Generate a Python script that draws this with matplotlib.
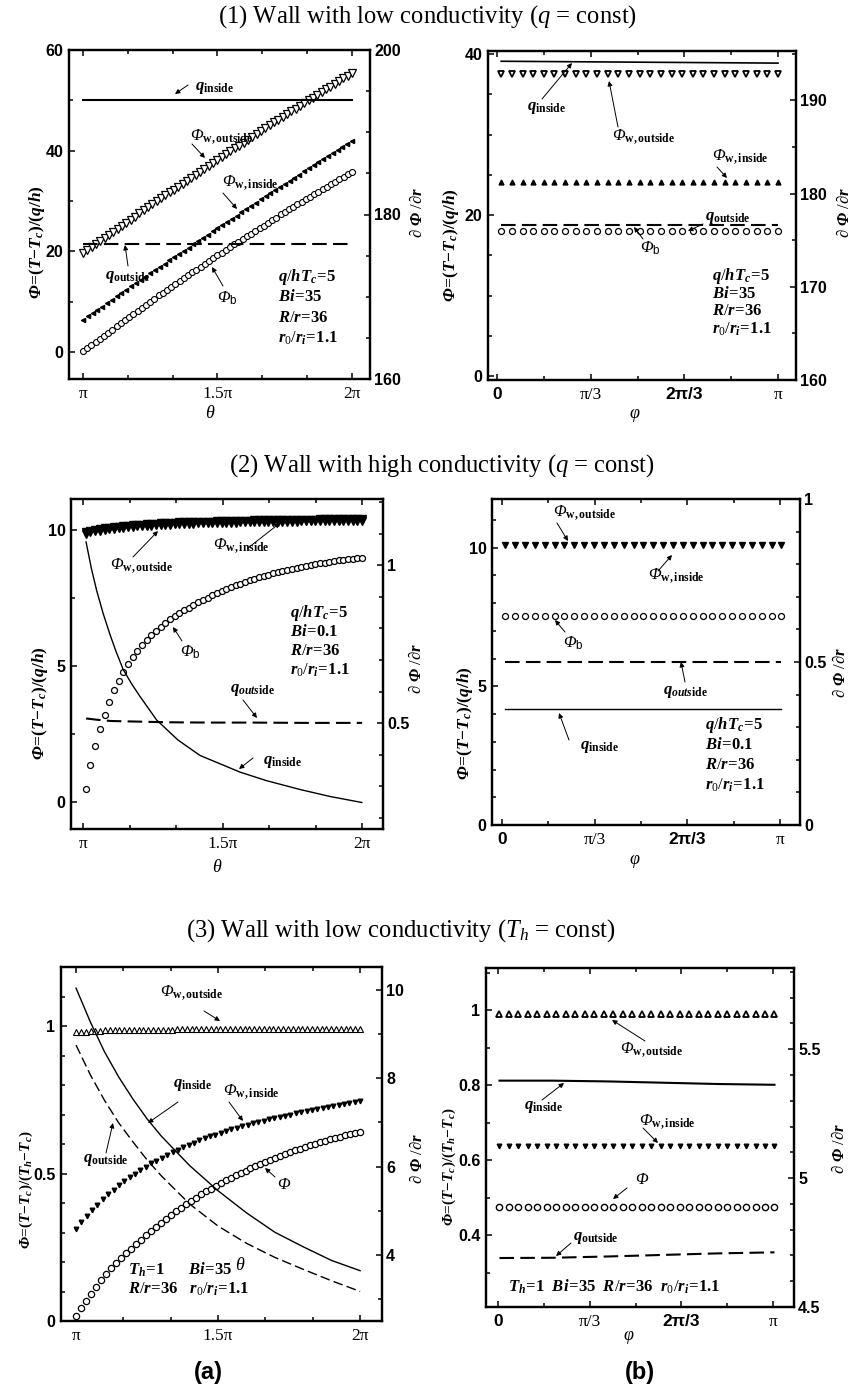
import numpy as np
import matplotlib
matplotlib.use("Agg")
import matplotlib.pyplot as plt
from matplotlib.patches import FancyArrowPatch

plt.rcParams['font.family'] = 'Liberation Serif'
plt.rcParams['mathtext.fontset'] = 'custom'
plt.rcParams['mathtext.rm'] = 'Liberation Serif'
plt.rcParams['mathtext.it'] = 'Liberation Serif:italic:bold'
plt.rcParams['mathtext.bf'] = 'Liberation Serif:bold'
plt.rcParams['mathtext.sf'] = 'Liberation Sans'
plt.rcParams['mathtext.cal'] = 'Liberation Serif:italic'
plt.rcParams['mathtext.tt'] = 'Liberation Serif:italic:bold'

SANS = 'Liberation Sans'
SERIF = 'Liberation Serif'

# ---------------- data (angles in units of pi) ----------------
# (1a) low conductivity, q = const, vs theta
phi_wout_1a = [19.7, 20.3, 20.9, 21.5, 22.1, 22.7, 23.3, 23.9, 24.5, 25.1, 25.7, 26.3, 26.9, 27.5, 28.1, 28.7,
               29.3, 29.9, 30.5, 31.1, 31.7, 32.2, 32.8, 33.4, 34.0, 34.6, 35.2, 35.8, 36.4, 37.0, 37.6, 38.2,
               38.8, 39.3, 39.9, 40.5, 41.0, 41.6, 42.2, 42.7, 43.3, 43.9, 44.4, 45.0, 45.6, 46.1, 46.7,
               47.2, 47.8, 48.3, 48.9, 49.4, 50.0, 50.5, 51.1, 51.6, 52.2, 52.7, 53.3, 53.8, 54.4, 54.9, 55.5]
phi_win_1a = [6.4, 7.1, 7.7, 8.4, 9.0, 9.7, 10.3, 11.0, 11.7, 12.3, 13.0, 13.6, 14.3, 14.9, 15.6,
              16.2, 16.9, 17.5, 18.2, 18.8, 19.5, 20.1, 20.7, 21.4, 22.0, 22.7, 23.3, 24.0, 24.6,
              25.2, 25.9, 26.5, 27.1, 27.7, 28.4, 29.0, 29.6, 30.3, 30.9, 31.5, 32.1, 32.8, 33.4,
              34.0, 34.6, 35.2, 35.9, 36.5, 37.1, 37.7, 38.3, 38.9, 39.5, 40.1, 40.8, 41.4, 42.0]
phi_b_1a = [0.1, 0.7, 1.3, 2.0, 2.6, 3.2, 3.8, 4.4, 5.1, 5.7, 6.3, 6.9, 7.5, 8.1, 8.8, 9.4, 10.0,
            10.6, 11.2, 11.7, 12.3, 12.9, 13.4, 14.0, 14.6, 15.2, 15.8, 16.3, 16.9, 17.5, 18.1, 18.6, 19.2,
            19.7, 20.3, 20.8, 21.4, 21.9, 22.4, 23.0, 23.5, 24.0, 24.6, 25.1, 25.7, 26.2, 26.7, 27.3, 27.8,
            28.3, 28.8, 29.3, 29.8, 30.3, 30.8, 31.3, 31.8, 32.3, 32.8, 33.3, 33.8, 34.3, 34.8, 35.3, 35.8]
theta_q_1a = [1.0, 2.0]
q_in_1a = [193.9, 193.9]
q_out_1a = [176.4, 176.4]

# (1b) low conductivity, q = const, vs phi
phi_wout_1b = [37.6, 37.6, 37.6, 37.6, 37.6, 37.6, 37.6, 37.6, 37.6, 37.6, 37.6, 37.6, 37.6, 37.6,
               37.6, 37.6, 37.6, 37.6, 37.6, 37.6, 37.6, 37.6, 37.6, 37.6, 37.6, 37.6, 37.6]
phi_win_1b = [24.1, 24.1, 24.1, 24.1, 24.1, 24.1, 24.1, 24.1, 24.1, 24.1, 24.1, 24.1, 24.1, 24.1,
              24.1, 24.1, 24.1, 24.1, 24.1, 24.1, 24.1, 24.1, 24.1, 24.1, 24.1, 24.1, 24.1]
phi_b_1b = [18.0, 18.0, 18.0, 18.0, 18.0, 18.0, 18.0, 18.0, 18.0, 18.0, 18.0, 18.0, 18.0, 18.0,
            18.0, 18.0, 18.0, 18.0, 18.0, 18.0, 18.0, 18.0, 18.0, 18.0, 18.0, 18.0, 18.0]
phi_q_1b = [0.015, 1.0]
q_in_1b = [194.2, 194.0]
q_out_1b = [176.6, 176.6]

# (2a) high conductivity, q = const, vs theta
phi_wout_2a = [9.92, 9.97, 10.01, 10.04, 10.07, 10.09, 10.11, 10.13, 10.15, 10.17, 10.18, 10.20, 10.21,
               10.22, 10.23, 10.24, 10.25, 10.26, 10.27, 10.28, 10.29,
               10.29, 10.30, 10.30, 10.31, 10.31, 10.32, 10.32, 10.33, 10.33, 10.34,
               10.34, 10.34, 10.35, 10.35, 10.35, 10.36, 10.36, 10.36, 10.37, 10.37,
               10.37, 10.38, 10.38, 10.38, 10.38, 10.39, 10.39, 10.39, 10.39, 10.40,
               10.40, 10.40, 10.40, 10.40, 10.41, 10.41, 10.41, 10.41, 10.41]
phi_win_2a = [9.86, 9.92, 9.96, 9.99, 10.02, 10.04, 10.06, 10.08, 10.10, 10.11, 10.13, 10.14, 10.15,
              10.16, 10.17, 10.18, 10.19, 10.20, 10.21, 10.22, 10.23,
              10.23, 10.24, 10.24, 10.25, 10.25, 10.26, 10.26, 10.27, 10.27, 10.28,
              10.28, 10.28, 10.29, 10.29, 10.29, 10.30, 10.30, 10.30, 10.31, 10.31,
              10.31, 10.32, 10.32, 10.32, 10.32, 10.33, 10.33, 10.33, 10.33, 10.34,
              10.34, 10.34, 10.34, 10.34, 10.35, 10.35, 10.35, 10.35, 10.35]
phi_b_2a = [0.48, 1.35, 2.07, 2.70, 3.21, 3.67, 4.12, 4.46, 4.79, 5.07, 5.34,
            5.57, 5.78, 5.97, 6.14, 6.30, 6.45, 6.59, 6.72, 6.84, 6.95,
            7.05, 7.15, 7.25, 7.34, 7.43, 7.52, 7.60, 7.68, 7.76, 7.83,
            7.90, 7.97, 8.03, 8.09, 8.15, 8.21, 8.26, 8.31, 8.36, 8.41,
            8.46, 8.50, 8.54, 8.58, 8.62, 8.66, 8.69, 8.72, 8.75, 8.78,
            8.81, 8.84, 8.86, 8.89, 8.91, 8.93, 8.95, 8.97, 8.99]
theta_qin_2a = [1.011, 1.030, 1.049, 1.072, 1.097, 1.118, 1.144, 1.174, 1.204, 1.264, 1.34, 1.419,
                1.563, 1.658, 1.778, 1.885, 1.999]
q_in_2a = [1.074, 0.99, 0.92, 0.848, 0.78, 0.728, 0.67, 0.625, 0.585, 0.51, 0.447, 0.398,
           0.345, 0.318, 0.29, 0.268, 0.249]
theta_qout_2a = [1.011, 1.05, 1.1, 1.2, 1.3, 1.45, 1.6, 1.8, 2.0]
q_out_2a = [0.515, 0.511, 0.507, 0.505, 0.503, 0.502, 0.502, 0.501, 0.501]

# (2b) high conductivity, q = const, vs phi
phi_w_2b = [10.1, 10.1, 10.1, 10.1, 10.1, 10.1, 10.1, 10.1, 10.1, 10.1, 10.1, 10.1, 10.1, 10.1, 10.1,
            10.1, 10.1, 10.1, 10.1, 10.1, 10.1, 10.1, 10.1, 10.1, 10.1, 10.1, 10.1, 10.1, 10.1]
phi_b_2b = [7.55, 7.55, 7.55, 7.55, 7.55, 7.55, 7.55, 7.55, 7.55, 7.55, 7.55, 7.55, 7.55, 7.55, 7.55,
            7.55, 7.55, 7.55, 7.55, 7.55, 7.55, 7.55, 7.55, 7.55, 7.55, 7.55, 7.55, 7.55, 7.55]
phi_q_2b = [0.012, 1.005]
q_in_2b = [0.357, 0.357]
q_out_2b = [0.501, 0.501]

# (3a) low conductivity, Th = const, vs theta
phi_wout_3a = [0.978, 0.980, 0.981, 0.982, 0.983, 0.984, 0.985, 0.985, 0.986, 0.986,
               0.987, 0.987, 0.987, 0.987, 0.987, 0.988, 0.988, 0.988, 0.988, 0.988,
               0.988, 0.989, 0.989, 0.989, 0.989, 0.989, 0.989, 0.989, 0.989, 0.989,
               0.989, 0.989, 0.989, 0.989, 0.989, 0.990, 0.990, 0.990, 0.990, 0.990,
               0.990, 0.990, 0.990, 0.990, 0.990, 0.990, 0.990, 0.990, 0.990, 0.990,
               0.991, 0.991, 0.991, 0.991, 0.991, 0.991, 0.991, 0.991, 0.991, 0.991]
phi_win_3a = [0.313, 0.335, 0.356, 0.376, 0.394, 0.412, 0.429, 0.445, 0.460, 0.474,
              0.487, 0.500, 0.512, 0.523, 0.534, 0.544, 0.554, 0.563, 0.572, 0.581,
              0.589, 0.597, 0.605, 0.612, 0.619, 0.626, 0.632, 0.638, 0.644, 0.650,
              0.655, 0.660, 0.665, 0.670, 0.675, 0.679, 0.684, 0.688, 0.692, 0.696,
              0.700, 0.704, 0.708, 0.712, 0.716, 0.719, 0.723, 0.726, 0.730, 0.733,
              0.737, 0.740, 0.744, 0.747]
phi_3a = [0.017, 0.044, 0.069, 0.093, 0.116, 0.138, 0.159, 0.179, 0.197, 0.214,
          0.230, 0.245, 0.260, 0.275, 0.292, 0.306, 0.320, 0.333, 0.347, 0.360,
          0.372, 0.384, 0.396, 0.407, 0.418, 0.429, 0.439, 0.449, 0.459, 0.468,
          0.477, 0.486, 0.494, 0.502, 0.510, 0.518, 0.525, 0.532, 0.539, 0.546,
          0.553, 0.559, 0.566, 0.572, 0.578, 0.584, 0.590, 0.595, 0.601, 0.606,
          0.611, 0.616, 0.621, 0.625, 0.630, 0.634, 0.638, 0.642]
theta_q_3a = [1.0, 1.05, 1.1, 1.15, 1.2, 1.25, 1.3, 1.4, 1.5, 1.6, 1.7, 1.8, 1.9, 2.0]
q_in_3a = [10.04, 9.28, 8.60, 8.03, 7.53, 7.08, 6.69, 6.02, 5.45, 4.95, 4.51, 4.18, 3.87, 3.64]
q_out_3a = [8.75, 8.08, 7.50, 6.99, 6.56, 6.15, 5.79, 5.15, 4.65, 4.26, 3.94, 3.67, 3.41, 3.17]

# (3b) low conductivity, Th = const, vs phi
phi_wout_3b = [0.99, 0.99, 0.99, 0.99, 0.99, 0.99, 0.99, 0.99, 0.99, 0.99, 0.99, 0.99, 0.99, 0.99, 0.99,
               0.99, 0.99, 0.99, 0.99, 0.99, 0.99, 0.99, 0.99, 0.99, 0.99, 0.99, 0.99, 0.99, 0.99, 0.99]
phi_win_3b = [0.637, 0.637, 0.637, 0.637, 0.637, 0.637, 0.637, 0.637, 0.637, 0.637, 0.637, 0.637, 0.637,
              0.637, 0.637, 0.637, 0.637, 0.637, 0.637, 0.637, 0.637, 0.637, 0.637, 0.637, 0.637, 0.637,
              0.637, 0.637, 0.637, 0.637]
phi_3b = [0.475, 0.475, 0.475, 0.475, 0.475, 0.475, 0.475, 0.475, 0.475, 0.475, 0.475, 0.475, 0.475,
          0.475, 0.475, 0.475, 0.475, 0.475, 0.475, 0.475, 0.475, 0.475, 0.475, 0.475, 0.475, 0.475,
          0.475, 0.475, 0.475, 0.475]
phi_q_3b = [0.005, 0.2, 0.4, 0.6, 0.8, 1.005]
q_in_3b = [5.378, 5.378, 5.375, 5.370, 5.365, 5.362]
q_out_3b = [4.690, 4.691, 4.696, 4.702, 4.708, 4.712]

# ---------------- figure ----------------
W, H = 854, 1388
fig = plt.figure(figsize=(W / 100, H / 100), dpi=100)


def box(l, t, r, b):
    return [l / W, 1 - b / H, (r - l) / W, (b - t) / H]


def txt(x, y, s, size=12, ha='left', **kw):
    fig.text(x / W, 1 - y / H, s, fontsize=size, ha=ha, va='center', **kw)


def arr(x0, y0, x1, y1):
    fig.add_artist(FancyArrowPatch((x0 / W, 1 - y0 / H), (x1 / W, 1 - y1 / H),
                                   transform=fig.transFigure, arrowstyle='-|>',
                                   mutation_scale=7, lw=0.7, color='k',
                                   shrinkA=0, shrinkB=0))


TH_TICKS = ([1, 1.5, 2], ['π', '1.5π', '2π'], [7 / 6, 4 / 3, 5 / 3, 11 / 6],
            [(SERIF, 'normal')] * 3)
PH_TICKS = ([0, 1 / 3, 2 / 3, 1], ['0', 'π/3', '2π/3', 'π'], [1 / 6, 1 / 2, 5 / 6],
            [(SANS, 'bold'), (SERIF, 'normal'), (SANS, 'bold'), (SERIF, 'normal')])


def panel(rect, xlim, xspec, ylim, yt, yl, ymin, y2lim, y2t, y2l, y2min):
    ax = fig.add_axes(rect)
    ax2 = ax.twinx()
    ax.set_xlim(xlim)
    ax.set_ylim(ylim)
    ax2.set_ylim(y2lim)
    xt, xl, xm, xf = xspec
    ax.set_xticks(xt, xl)
    ax.set_xticks(xm, minor=True)
    ax.set_yticks(yt, yl)
    ax.set_yticks(ymin, minor=True)
    ax2.set_yticks(y2t, y2l)
    ax2.set_yticks(y2min, minor=True)
    ax.tick_params(axis='x', which='both', direction='in', top=True, bottom=True, pad=5)
    ax.tick_params(axis='y', which='both', direction='in', left=True, right=False, pad=4)
    ax2.tick_params(axis='y', which='both', direction='in', right=True, left=False, pad=3)
    for a in (ax, ax2):
        a.tick_params(which='major', length=4.5, width=1.1)
        a.tick_params(which='minor', length=3, width=1.1)
        for sp in a.spines.values():
            sp.set_linewidth(1.6)
    for lab in ax.get_yticklabels() + ax2.get_yticklabels():
        lab.set_fontfamily(SANS)
        lab.set_fontweight('bold')
        lab.set_fontsize(11.5)
    for lab, (fam, wt) in zip(ax.get_xticklabels(), xf):
        lab.set_fontfamily(fam)
        lab.set_fontweight(wt)
        lab.set_fontsize(12.5)
    return ax, ax2


def grid(a, b, vals):
    return np.linspace(a, b, len(vals))


DASH = (0, (7, 3))
Q_IN = r'$q_{\mathbf{inside}}$'
Q_OUT = r'$q_{\mathbf{outside}}$'
Q_OUT2 = r'$q_{outs\mathbf{ide}}$'
PW_OUT = r'$\mathcal{Φ}_{\mathbf{w,outside}}$'
PW_IN = r'$\mathcal{Φ}_{\mathbf{w,inside}}$'
PB = r'$\mathcal{Φ}_{\mathsf{b}}$'
PH = r'$\mathcal{Φ}$'
EQ = r'\!\mathbf{=}\!'
YL_Q = r'$\mathtt{Φ}' + EQ + r'\mathbf{(}T\mathbf{-}T_c\mathbf{)/(}q\mathbf{/}h\mathbf{)}$'
YL_T = r'$\mathtt{Φ}' + EQ + r'\mathbf{(}T\mathbf{-}T_c\mathbf{)/(}T_h\mathbf{-}T_c\mathbf{)}$'
YR = r'$\partial\ \mathtt{Φ}\ /\partial r$'
XTH = r'$\mathcal{θ}$'
XPH = r'$\mathcal{φ}$'


def par(lhs, rhs):
    return '$' + lhs + EQ + r'\mathbf{' + rhs + '}$'


PARAMS_Q1 = [par('q/hT_c', '5'), par('Bi', '35'), par('R/r', '36'), par('r_0/r_i', '1.1')]
PARAMS_Q2 = [par('q/hT_c', '5'), par('Bi', '0.1'), par('R/r', '36'), par('r_0/r_i', '1.1')]

# titles
txt(427, 17, r'(1) Wall with low conductivity ($\mathcal{q}$ = const)', size=17.7, ha='center')
txt(442, 466, r'(2) Wall with high conductivity ($\mathcal{q}$ = const)', size=17.7, ha='center')
txt(401, 931, r'(3) Wall with low conductivity ($\mathcal{T}_{\mathcal{h}}$ = const)', size=17.7, ha='center')

# ---- (1a)
ax, ax2 = panel(box(69, 50, 370, 379), (0.948, 2.067), TH_TICKS,
                (-5.4, 60), [0, 20, 40, 60], ['0', '20', '40', '60'], [10, 30, 50],
                (160, 200), [160, 180, 200], ['160', '180', '200'], [165, 170, 175, 185, 190, 195])
ax.plot(grid(1, 2, phi_wout_1a), phi_wout_1a, 'v', ms=5.2, mfc='white', mec='k', mew=0.9, ls='none')
ax.plot(grid(1, 2, phi_win_1a), phi_win_1a, '<', ms=3, color='k', ls='none')
ax.plot(grid(1, 2, phi_b_1a), phi_b_1a, 'o', ms=4.3, mfc='white', mec='k', mew=0.8, ls='none')
ax2.plot(theta_q_1a, q_in_1a, 'k-', lw=1.5)
ax2.plot(theta_q_1a, q_out_1a, color='k', ls=DASH, lw=1.5)
txt(27, 242, YL_Q, size=12.5, rotation=90)
txt(418, 212, YR, size=12, rotation=90, ha='center')
txt(210, 413, XTH, size=13, ha='center')
txt(195, 88, Q_IN); arr(188, 85, 175, 94)
txt(190, 137, PW_OUT); arr(192, 144, 205, 158)
txt(222, 183, PW_IN); arr(223, 193, 237, 209)
txt(105, 277, Q_OUT); arr(128, 266, 125, 245)
txt(217, 298, PB); arr(223, 286, 212, 267)
for yy, s in zip([277, 297, 318, 338], PARAMS_Q1):
    txt(278, yy, s)

# ---- (1b)
ax, ax2 = panel(box(488, 51, 796, 380), (-0.032, 1.064), PH_TICKS,
                (-0.5, 40.4), [0, 20, 40], ['0', '20', '40'], [5, 10, 15, 25, 30, 35],
                (160, 195.3), [160, 170, 180, 190], ['160', '170', '180', '190'], [165, 175, 185, 195])
ax.plot(grid(0.015, 1.0, phi_wout_1b), phi_wout_1b, 'v', ms=5, mfc='white', mec='k', mew=1.3, ls='none')
ax.plot(grid(0.015, 1.0, phi_win_1b), phi_win_1b, '^', ms=3.5, color='k', ls='none')
ax.plot(grid(0.015, 1.0, phi_b_1b), phi_b_1b, 'o', ms=4.3, mfc='white', mec='k', mew=0.9, ls='none')
ax2.plot(phi_q_1b, q_in_1b, 'k-', lw=1.2)
ax2.plot(phi_q_1b, q_out_1b, color='k', ls=DASH, lw=1.5)
txt(441, 245, YL_Q, size=12.5, rotation=90)
txt(845, 212, YR, size=12, rotation=90, ha='center')
txt(635, 415, XPH, size=13, ha='center')
txt(527, 108, Q_IN); arr(542, 99, 572, 63)
txt(612, 137, PW_OUT); arr(618, 127, 609, 81)
txt(712, 157, PW_IN); arr(717, 167, 727, 178)
txt(705, 218, Q_OUT); arr(703, 224, 688, 231)
txt(640, 248, PB); arr(643, 239, 634, 227)
for yy, s in zip([276, 294, 311, 329], PARAMS_Q1):
    txt(712, yy, s)

# ---- (2a)
ax, ax2 = panel(box(71, 499, 383, 829), (0.957, 2.075), TH_TICKS,
                (-1.0, 11.15), [0, 5, 10], ['0', '5', '10'], [2.5, 7.5],
                (0.165, 1.21), [0.5, 1], ['0.5', '1'], [0.2, 0.3, 0.4, 0.6, 0.7, 0.8, 0.9, 1.1, 1.2])
ax.plot(grid(1.01, 2.0, phi_win_2a), phi_win_2a, 'v', ms=5.5, color='k', ls='none')
ax.plot(grid(1.01, 2.0, phi_wout_2a), phi_wout_2a, 'v', ms=5.5, color='k', ls='none')
ax.plot(grid(1.01, 2.0, phi_b_2a), phi_b_2a, 'o', ms=4.3, mfc='white', mec='k', mew=0.9, ls='none')
ax2.plot(theta_qin_2a, q_in_2a, 'k-', lw=1.0)
ax2.plot(theta_qout_2a, q_out_2a, color='k', ls=DASH, lw=1.5)
txt(30, 703, YL_Q, size=12.5, rotation=90)
txt(417, 668, YR, size=12, rotation=90, ha='center')
txt(217, 868, XTH, size=13, ha='center')
txt(110, 566, PW_OUT); arr(133, 557, 158, 531)
txt(213, 546, PW_IN); arr(248, 548, 280, 523)
txt(180, 652, PB); arr(182, 641, 173, 627)
txt(230, 690, Q_OUT2); arr(243, 700, 257, 718)
txt(263, 762, Q_IN); arr(253, 758, 239, 769)
for yy, s in zip([613, 632, 651, 670], PARAMS_Q2):
    txt(290, yy, s)

# ---- (2b)
ax, ax2 = panel(box(492, 499, 800, 825), (-0.036, 1.072), PH_TICKS,
                (0, 11.75), [0, 5, 10], ['0', '5', '10'], [1, 2, 3, 4, 6, 7, 8, 9, 11],
                (0, 1), [0, 0.5, 1], ['0', '0.5', '1'], [0.1, 0.2, 0.3, 0.4, 0.6, 0.7, 0.8, 0.9])
ax.plot(grid(0.012, 1.005, phi_w_2b), phi_w_2b, 'v', ms=5, color='k', ls='none')
ax.plot(grid(0.012, 1.005, phi_b_2b), phi_b_2b, 'o', ms=4.3, mfc='white', mec='k', mew=0.9, ls='none')
ax2.plot(phi_q_2b, q_in_2b, 'k-', lw=1.0)
ax2.plot(phi_q_2b, q_out_2b, color='k', ls=DASH, lw=1.5)
txt(455, 723, YL_Q, size=12.5, rotation=90)
txt(841, 672, YR, size=12, rotation=90, ha='center')
txt(635, 862, XPH, size=13, ha='center')
txt(553, 513, PW_OUT); arr(557, 523, 568, 541)
txt(648, 576, PW_IN); arr(658, 571, 672, 555)
txt(563, 643, PB); arr(565, 632, 555, 620)
txt(663, 692, Q_OUT2); arr(685, 682, 681, 662)
txt(580, 747, Q_IN); arr(569, 740, 559, 713)
for yy, s in zip([725, 745, 765, 785], PARAMS_Q2):
    txt(705, yy, s)

# ---- (3a)
ax, ax2 = panel(box(61, 967, 382, 1321), (0.947, 2.077), TH_TICKS,
                (0, 1.2), [0, 0.5, 1], ['0', '0.5', '1'], [0.1, 0.2, 0.3, 0.4, 0.6, 0.7, 0.8, 0.9, 1.1],
                (2.5, 10.52), [4, 6, 8, 10], ['4', '6', '8', '10'], [3, 5, 7, 9])
ax.plot(grid(1, 2, phi_wout_3a), phi_wout_3a, '^', ms=4.5, mfc='white', mec='k', mew=0.8, ls='none')
ax.plot(grid(1, 2, phi_win_3a), phi_win_3a, 'v', ms=3.3, color='k', ls='none')
ax.plot(grid(1, 2, phi_3a), phi_3a, 'o', ms=4.5, mfc='white', mec='k', mew=0.9, ls='none')
ax2.plot(theta_q_3a, q_in_3a, 'k-', lw=1.0)
ax2.plot(theta_q_3a, q_out_3a, color='k', ls=DASH, lw=1.0)
txt(18, 1190, YL_T, size=11, rotation=90)
txt(418, 1158, YR, size=12, rotation=90, ha='center')
txt(240, 1266, XTH, size=13, ha='center')
txt(160, 993, PW_OUT); arr(204, 1011, 220, 1021)
txt(173, 1085, Q_IN); arr(178, 1102, 148, 1123)
txt(223, 1092, PW_IN); arr(229, 1102, 243, 1121)
txt(83, 1160, Q_OUT); arr(106, 1153, 113, 1123)
txt(277, 1185, PH); arr(275, 1177, 265, 1168)
txt(128, 1270, par('T_h', '1') + r'      ' + par('Bi', '35'))
txt(128, 1289, par('R/r', '36') + r'   ' + par('r_0/r_i', '1.1'))

# ---- (3b)
ax, ax2 = panel(box(486, 968, 794, 1307), (-0.044, 1.076), PH_TICKS,
                (0.208, 1.112), [0.4, 0.6, 0.8, 1], ['0.4', '0.6', '0.8', '1'], [0.3, 0.5, 0.7, 0.9, 1.1],
                (4.5, 5.815), [4.5, 5, 5.5], ['4.5', '5', '5.5'],
                [4.6, 4.7, 4.8, 4.9, 5.1, 5.2, 5.3, 5.4, 5.6, 5.7, 5.8])
ax.plot(grid(0.005, 1.005, phi_wout_3b), phi_wout_3b, '^', ms=4.8, mfc='white', mec='k', mew=1.3, ls='none')
ax.plot(grid(0.005, 1.005, phi_win_3b), phi_win_3b, 'v', ms=3.3, color='k', ls='none')
ax.plot(grid(0.005, 1.005, phi_3b), phi_3b, 'o', ms=4.5, mfc='white', mec='k', mew=1.0, ls='none')
ax2.plot(phi_q_3b, q_in_3b, 'k-', lw=1.5)
ax2.plot(phi_q_3b, q_out_3b, color='k', ls=DASH, lw=1.5)
txt(441, 1167, YL_T, size=11, rotation=90)
txt(840, 1148, YR, size=12, rotation=90, ha='center')
txt(629, 1338, XPH, size=13, ha='center')
txt(620, 1050, PW_OUT); arr(645, 1041, 612, 1020)
txt(524, 1107, Q_IN); arr(542, 1100, 564, 1083)
txt(639, 1122, PW_IN); arr(643, 1128, 658, 1143)
txt(635, 1180, PH); arr(627, 1188, 613, 1199)
txt(573, 1238, Q_OUT); arr(571, 1243, 556, 1256)
txt(508, 1287, par('T_h', '1') + '  ' + par('Bi', '35') + '  ' + par('R/r', '36') + '  '
    + par('r_0/r_i', '1.1'))

txt(208, 1372, '(a)', size=17, ha='center', family=SANS, weight='bold')
txt(640, 1372, '(b)', size=17, ha='center', family=SANS, weight='bold')

fig.savefig('out.png', dpi=100)
